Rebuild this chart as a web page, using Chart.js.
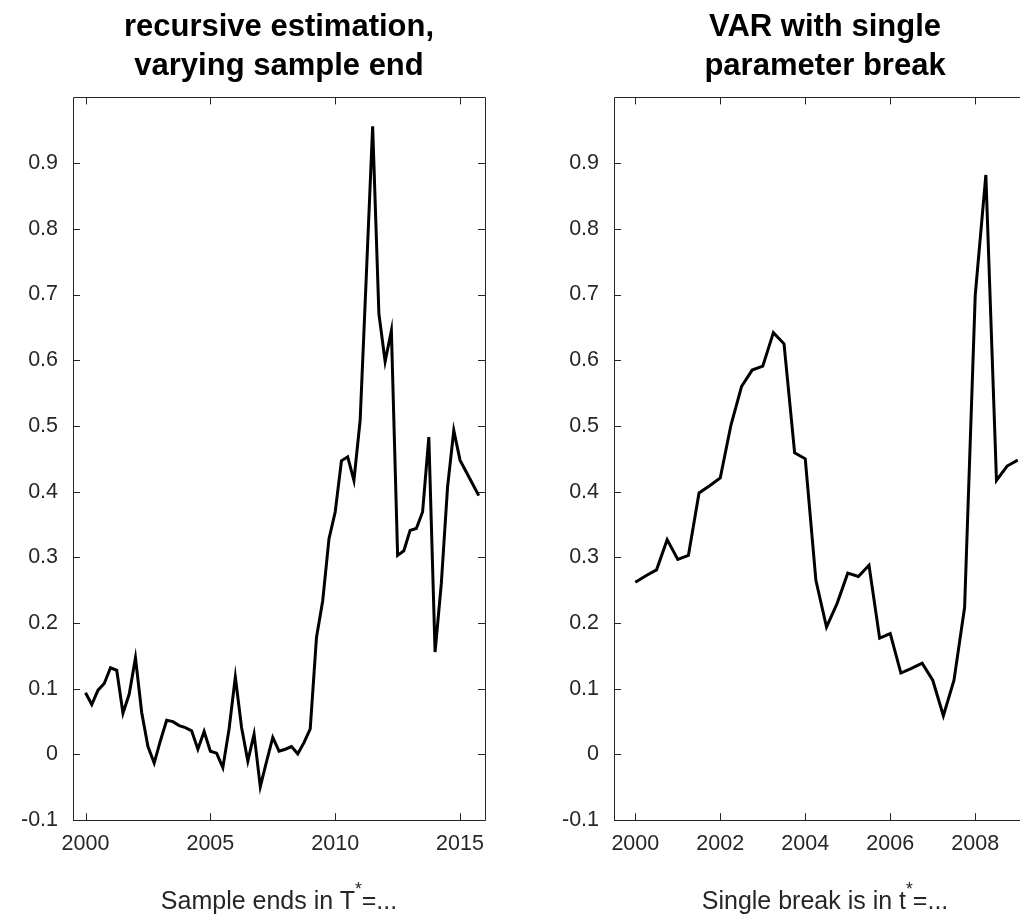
<!DOCTYPE html>
<html>
<head>
<meta charset="utf-8">
<script src="https://cdn.jsdelivr.net/npm/chart.js@4/dist/chart.umd.min.js"></script>
<style>
  html, body { margin: 0; padding: 0; background: #fff; overflow: hidden; }
  body { width: 1020px; height: 922px; position: relative; }
  .panel { position: absolute; top: 0; height: 922px; }
  .xlab { position: absolute; font: 25px 'Liberation Sans', Arial, sans-serif; color: #262626;
          white-space: nowrap; transform: translateX(-50%); line-height: 28px; }
  .xlab sup { font-size: 0.7em; vertical-align: 0.8em; line-height: 0; }
</style>
</head>
<body>
<div class="panel" id="p1" style="left:0; width:510px"><canvas id="c1"></canvas></div>
<div class="panel" id="p2" style="left:541px; width:520px"><canvas id="c2"></canvas></div>
<div class="xlab" id="l1">Sample ends in T<sup>*</sup>=...</div>
<div class="xlab" id="l2">Single break is in t<sup>*</sup>=...</div>
<script>
// left panel: recursive estimation, quarterly sample ends 2000Q1..2015Q4
const recDates = [
  2000.00, 2000.25, 2000.50, 2000.75, 2001.00, 2001.25, 2001.50, 2001.75,
  2002.00, 2002.25, 2002.50, 2002.75, 2003.00, 2003.25, 2003.50, 2003.75,
  2004.00, 2004.25, 2004.50, 2004.75, 2005.00, 2005.25, 2005.50, 2005.75,
  2006.00, 2006.25, 2006.50, 2006.75, 2007.00, 2007.25, 2007.50, 2007.75,
  2008.00, 2008.25, 2008.50, 2008.75, 2009.00, 2009.25, 2009.50, 2009.75,
  2010.00, 2010.25, 2010.50, 2010.75, 2011.00, 2011.25, 2011.50, 2011.75,
  2012.00, 2012.25, 2012.50, 2012.75, 2013.00, 2013.25, 2013.50, 2013.75,
  2014.00, 2014.25, 2014.50, 2014.75, 2015.00, 2015.25, 2015.50, 2015.75
];
const recValues = [
  0.094, 0.076, 0.098, 0.108, 0.132, 0.128, 0.063, 0.092,
  0.147, 0.064, 0.012, -0.013, 0.021, 0.052, 0.050, 0.044,
  0.041, 0.036, 0.008, 0.035, 0.005, 0.002, -0.020, 0.039,
  0.118, 0.041, -0.010, 0.031, -0.049, -0.011, 0.026, 0.005,
  0.008, 0.012, 0.001, 0.018, 0.039, 0.178, 0.234, 0.328,
  0.369, 0.447, 0.453, 0.417, 0.509, 0.732, 0.956, 0.671,
  0.598, 0.645, 0.303, 0.310, 0.341, 0.344, 0.369, 0.483,
  0.156, 0.260, 0.407, 0.493, 0.448, 0.430, 0.412, 0.394
];

// right panel: VAR with single break, break dates 2000Q1..2009Q1
const brkDates = [
  2000.00, 2000.25, 2000.50, 2000.75, 2001.00, 2001.25, 2001.50, 2001.75,
  2002.00, 2002.25, 2002.50, 2002.75, 2003.00, 2003.25, 2003.50, 2003.75,
  2004.00, 2004.25, 2004.50, 2004.75, 2005.00, 2005.25, 2005.50, 2005.75,
  2006.00, 2006.25, 2006.50, 2006.75, 2007.00, 2007.25, 2007.50, 2007.75,
  2008.00, 2008.25, 2008.50, 2008.75, 2009.00
];
const brkValues = [
  0.262, 0.272, 0.281, 0.327, 0.297, 0.303, 0.398, 0.409,
  0.421, 0.501, 0.560, 0.585, 0.591, 0.642, 0.625, 0.459,
  0.450, 0.265, 0.194, 0.230, 0.276, 0.271, 0.288, 0.177,
  0.184, 0.124, 0.131, 0.139, 0.113, 0.059, 0.113, 0.224,
  0.699, 0.882, 0.417, 0.439, 0.448
];

const yTicks = [-0.1, 0, 0.1, 0.2, 0.3, 0.4, 0.5, 0.6, 0.7, 0.8, 0.9];
const yTickLabels = ['-0.1', '0', '0.1', '0.2', '0.3', '0.4', '0.5', '0.6', '0.7', '0.8', '0.9'];
const recXTicks = [2000, 2005, 2010, 2015];
const brkXTicks = [2000, 2002, 2004, 2006, 2008];

const FONT = "'Liberation Sans', Arial, Helvetica, sans-serif";
const AXIS_COLOR = '#262626';

// matlab style box with inward ticks on all four sides
const matlabBox = {
  id: 'matlabBox',
  beforeDatasetsDraw(chart, args, opts) {
    const { ctx, chartArea: a, scales: { x, y } } = chart;
    const len = opts.len;
    ctx.save();
    ctx.strokeStyle = opts.color;
    ctx.lineWidth = 1;
    ctx.beginPath();
    x.ticks.forEach(t => {
      const px = Math.round(x.getPixelForValue(t.value)) + 0.5;
      ctx.moveTo(px, a.bottom); ctx.lineTo(px, a.bottom - len);
      ctx.moveTo(px, a.top); ctx.lineTo(px, a.top + len);
    });
    y.ticks.forEach(t => {
      const py = Math.round(y.getPixelForValue(t.value)) + 0.5;
      ctx.moveTo(a.left, py); ctx.lineTo(a.left + len, py);
      ctx.moveTo(a.right, py); ctx.lineTo(a.right - len, py);
    });
    ctx.rect(Math.round(a.left) + 0.5, Math.round(a.top) + 0.5,
             Math.round(a.width), Math.round(a.height));
    ctx.stroke();
    ctx.restore();
  }
};

function makeChart(canvasId, titleLines, dates, values, xMin, xMax, xTicks) {
  const ctx = document.getElementById(canvasId).getContext('2d');
  return new Chart(ctx, {
    type: 'line',
    data: {
      datasets: [{
        data: dates.map((d, i) => ({ x: d, y: values[i] })),
        borderColor: '#000',
        borderWidth: 3,
        pointRadius: 0,
        tension: 0,
        fill: false
      }]
    },
    options: {
      responsive: true,
      maintainAspectRatio: false,
      animation: false,
      layout: { padding: { left: 6, right: 25, top: 0, bottom: 54 } },
      plugins: {
        legend: { display: false },
        tooltip: { enabled: false },
        title: {
          display: true,
          text: titleLines,
          color: '#000',
          fullSize: false,
          font: { family: FONT, size: 31, weight: 'bold', lineHeight: 1.26 },
          padding: { top: 7.5, bottom: 11.8 }
        },
        matlabBox: { color: AXIS_COLOR, len: 7 }
      },
      scales: {
        x: {
          type: 'linear',
          min: xMin,
          max: xMax,
          afterBuildTicks: scale => { scale.ticks = xTicks.map(v => ({ value: v })); },
          grid: { display: false, drawTicks: false },
          border: { display: false },
          ticks: {
            color: AXIS_COLOR,
            font: { family: FONT, size: 21.5 },
            padding: 11,
            maxRotation: 0,
            callback: v => String(v)
          }
        },
        y: {
          min: -0.1,
          max: 1.0,
          afterBuildTicks: scale => { scale.ticks = yTicks.map(v => ({ value: v })); },
          grid: { display: false, drawTicks: false },
          border: { display: false },
          ticks: {
            color: AXIS_COLOR,
            font: { family: FONT, size: 21.5 },
            padding: 15,
            callback: (v, i) => yTickLabels[i]
          }
        }
      }
    },
    plugins: [matlabBox]
  });
}

const chart1 = makeChart('c1', ['recursive estimation,', 'varying sample end'],
  recDates, recValues, 1999.5, 2016.0, recXTicks);
const chart2 = makeChart('c2', ['VAR with single', 'parameter break'],
  brkDates, brkValues, 1999.5, 2009.43, brkXTicks);

// x axis labels (need a superscript), centred under each plot area
function placeLabel(id, chart, offset) {
  const a = chart.chartArea;
  const el = document.getElementById(id);
  el.style.left = (offset + (a.left + a.right) / 2) + 'px';
  el.style.top = '886px';
}
placeLabel('l1', chart1, 0);
placeLabel('l2', chart2, 541);
</script>
</body>
</html>
